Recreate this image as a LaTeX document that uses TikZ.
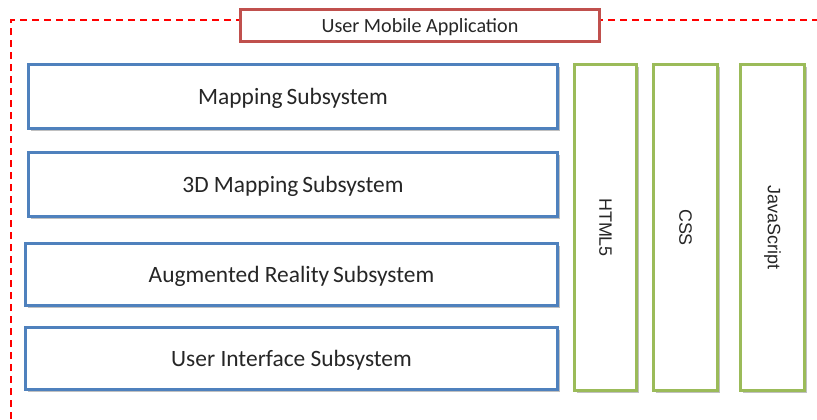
\documentclass[tikz,border=0pt]{standalone}
\usepackage{fontspec}
\setmainfont{Carlito}
\newfontfamily\arialfont{Liberation Sans}
\usetikzlibrary{shadows}
\definecolor{boxblue}{HTML}{4F81BD}
\definecolor{boxgreen}{HTML}{9BBB59}
\definecolor{titlered}{HTML}{C0504D}
\definecolor{framered}{HTML}{FF0000}
\definecolor{txt}{HTML}{262626}
\begin{document}
\begin{tikzpicture}[x=1bp,y=-1bp,
  shad/.style={drop shadow={shadow xshift=2.5bp, shadow yshift=-2.5bp, opacity=0.45, fill=black!55}},
  sub/.style={draw=boxblue, line width=3bp, fill=white, text=txt, inner sep=0pt,
    text depth=0pt, font=\fontsize{23.5}{26}\selectfont, shad},
  tech/.style={draw=boxgreen, line width=3bp, fill=white, inner sep=0pt, shad,
    minimum height=326bp},
  techlabel/.style={rotate=-90, text=txt, font=\arialfont\fontsize{18}{20}\selectfont, inner sep=0pt},
  titlebox/.style={draw=titlered, line width=3bp, fill=white, text=txt, inner sep=0pt,
    text depth=0pt, font=\fontsize{20.2}{24}\selectfont},
  frame/.style={draw=framered, line width=2bp, dash pattern=on 7bp off 5bp}
]
\useasboundingbox (0,0) rectangle (817,419);
\coordinate (fl) at (11,419);
\coordinate (fc) at (11,20);
\coordinate (fr) at (817,20);
\draw[frame] (fl) -- (fc) -- (fr);
\node[titlebox, minimum width=359bp, minimum height=32bp] (title) at (420,25.5) {User Mobile Application};
\node[sub, minimum width=529bp, minimum height=64bp] (map) at (293,96.5) {Mapping\,Subsystem};
\node[sub, minimum width=529bp, minimum height=64bp] (map3d) at (293,184.5) {3D Mapping\,Subsystem};
\node[sub, minimum width=532bp, minimum height=62bp] (ar) at (291.5,274.5) {Augmented Reality\,Subsystem};
\node[sub, minimum width=532bp, minimum height=62bp] (ui) at (291.5,358.5) {User Interface Subsystem};
\node[tech, minimum width=62bp] (html) at (605.5,227.5) {};
\node[tech, minimum width=64bp] (css) at (685.5,227.5) {};
\node[tech, minimum width=64bp] (js) at (772.5,227.5) {};
\node[techlabel] (htmlt) at (html.center) {HTML5};
\node[techlabel] (csst) at (css.center) {CSS};
\node[techlabel] (jst) at (js.center) {JavaScript};
\end{tikzpicture}
\end{document}
